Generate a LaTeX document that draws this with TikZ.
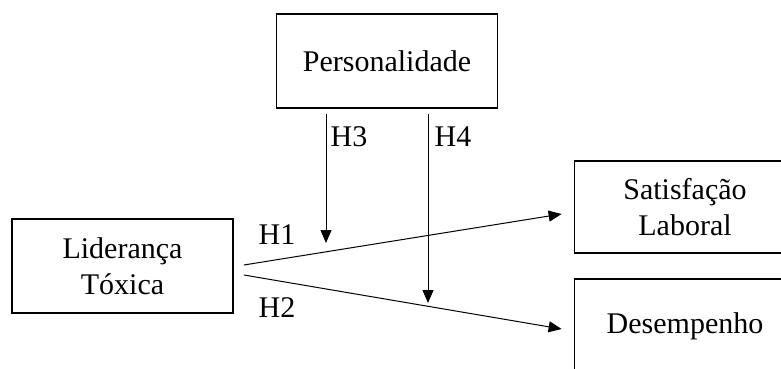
\documentclass[tikz,border=0pt]{standalone}
\usepackage{fontspec}
\setmainfont{Liberation Serif}
\usetikzlibrary{arrows.meta}
\begin{document}
\begin{tikzpicture}[x=1pt,y=-1pt,
  box/.style={draw, line width=1.8pt, minimum width=221pt, minimum height=94pt, inner sep=0pt, align=center, font=\fontsize{30}{36}\selectfont},
  lbl/.style={inner sep=0pt, font=\fontsize{30}{36}\selectfont},
  arr/.style={line width=1pt, -{Triangle[length=13pt,width=11pt]}}]
\useasboundingbox (0,0) rectangle (781,369);
\clip (0,0) rectangle (781,369);
\node[box] (pers) at (387,61) {Personalidade};
\node[box] (lid) at (122.5,266) {Liderança\\Tóxica};
\node[box, minimum height=92pt] (sat) at (685,207) {Satisfação\\Laboral};
\node[box] (des) at (685,326) {Desempenho};
\coordinate (h3end) at (326,243);
\coordinate (h4end) at (428,303);
\draw[arr] ([xshift=-61pt,yshift=-5pt]pers.south) -- (h3end);
\draw[arr] ([xshift=41pt,yshift=-5pt]pers.south) -- (h4end);
\draw[arr] ([xshift=10pt,yshift=1pt]lid.east) -- ([xshift=-12pt,yshift=-7pt]sat.west);
\draw[arr] ([xshift=10pt,yshift=-9pt]lid.east) -- ([xshift=-12pt,yshift=-3pt]des.west);
\node[lbl] (h3) at (349,137) {H3};
\node[lbl] (h4) at (453,137) {H4};
\node[lbl] (h1) at (277,235) {H1};
\node[lbl] (h2) at (277,308) {H2};
\end{tikzpicture}
\end{document}
